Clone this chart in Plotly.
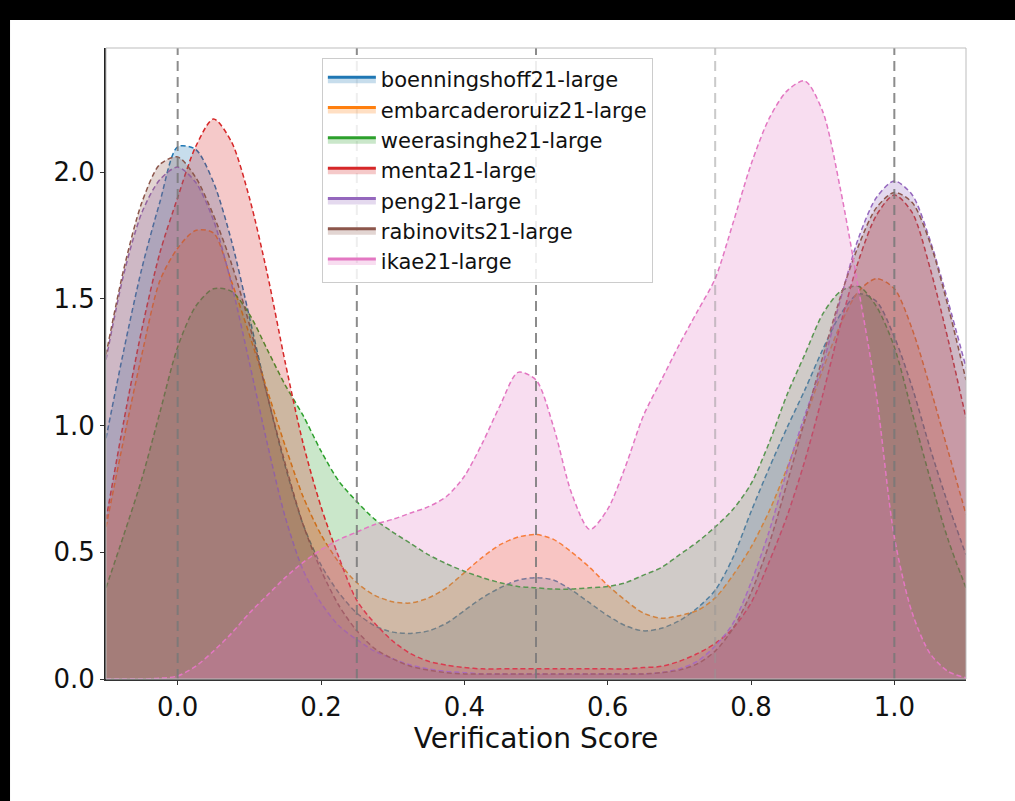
import plotly.graph_objects as go

# x grid of the density estimates (Verification Score)
score = [-0.1, -0.075, -0.05, -0.025, 0.0, 0.025, 0.05, 0.075, 0.1, 0.125,
         0.15, 0.175, 0.2, 0.225, 0.25, 0.275, 0.3, 0.325, 0.35, 0.375,
         0.4, 0.425, 0.45, 0.475, 0.5, 0.525, 0.55, 0.575, 0.6, 0.625,
         0.65, 0.675, 0.7, 0.725, 0.75, 0.775, 0.8, 0.825, 0.85, 0.875,
         0.9, 0.925, 0.95, 0.975, 1.0, 1.025, 1.05, 1.075, 1.1]

boenningshoff21 = [0.95, 1.30, 1.62, 1.88, 2.10, 2.09, 1.96, 1.73, 1.43, 1.12,
                   0.84, 0.61, 0.45, 0.34, 0.26, 0.21, 0.185, 0.18, 0.19, 0.22,
                   0.27, 0.32, 0.36, 0.39, 0.40, 0.39, 0.35, 0.30, 0.25, 0.21,
                   0.19, 0.20, 0.23, 0.28, 0.35, 0.48, 0.66, 0.83, 0.99, 1.14,
                   1.30, 1.44, 1.52, 1.49, 1.35, 1.15, 0.91, 0.69, 0.49]

embarcaderoruiz21 = [0.60, 0.95, 1.28, 1.57, 1.70, 1.77, 1.76, 1.57, 1.36, 1.14,
                     0.92, 0.72, 0.57, 0.46, 0.38, 0.33, 0.305, 0.30, 0.32, 0.36,
                     0.42, 0.48, 0.53, 0.56, 0.57, 0.55, 0.50, 0.44, 0.37, 0.31,
                     0.26, 0.24, 0.25, 0.27, 0.32, 0.41, 0.52, 0.66, 0.83, 1.02,
                     1.22, 1.40, 1.53, 1.58, 1.54, 1.38, 1.15, 0.90, 0.65]

weerasinghe21 = [0.36, 0.57, 0.79, 1.05, 1.31, 1.47, 1.54, 1.53, 1.44, 1.30,
                 1.16, 1.04, 0.90, 0.78, 0.70, 0.63, 0.58, 0.535, 0.49, 0.455,
                 0.425, 0.40, 0.38, 0.365, 0.36, 0.355, 0.355, 0.36, 0.365, 0.38,
                 0.41, 0.44, 0.49, 0.54, 0.60, 0.67, 0.77, 0.93, 1.12, 1.28,
                 1.44, 1.53, 1.55, 1.47, 1.31, 1.05, 0.79, 0.55, 0.36]

menta21 = [0.63, 1.02, 1.38, 1.68, 1.90, 2.10, 2.21, 2.12, 1.90, 1.60,
           1.25, 0.93, 0.68, 0.48, 0.31, 0.22, 0.15, 0.10, 0.07, 0.055,
           0.045, 0.04, 0.04, 0.04, 0.04, 0.04, 0.04, 0.04, 0.04, 0.04,
           0.045, 0.05, 0.07, 0.10, 0.14, 0.20, 0.30, 0.46, 0.64, 0.86,
           1.12, 1.40, 1.65, 1.83, 1.91, 1.84, 1.62, 1.34, 1.03]

peng21 = [1.26, 1.60, 1.84, 1.97, 2.02, 1.96, 1.81, 1.56, 1.25, 0.93,
          0.64, 0.43, 0.30, 0.21, 0.155, 0.11, 0.08, 0.055, 0.04, 0.03,
          0.025, 0.02, 0.02, 0.02, 0.02, 0.02, 0.02, 0.02, 0.02, 0.02,
          0.02, 0.025, 0.04, 0.07, 0.13, 0.22, 0.38, 0.58, 0.82, 1.04,
          1.24, 1.50, 1.74, 1.90, 1.965, 1.91, 1.73, 1.49, 1.23]

rabinovits21 = [1.28, 1.62, 1.88, 2.03, 2.06, 1.98, 1.83, 1.64, 1.40, 1.12,
                0.85, 0.61, 0.43, 0.29, 0.19, 0.12, 0.08, 0.05, 0.035, 0.025,
                0.02, 0.02, 0.02, 0.02, 0.02, 0.02, 0.02, 0.02, 0.02, 0.02,
                0.02, 0.025, 0.035, 0.06, 0.11, 0.20, 0.34, 0.53, 0.77, 1.02,
                1.27, 1.51, 1.71, 1.86, 1.92, 1.88, 1.72, 1.47, 1.18]

ikae21 = [0.0, 0.0, 0.0, 0.003, 0.012, 0.05, 0.11, 0.18, 0.26, 0.33,
          0.40, 0.46, 0.51, 0.55, 0.58, 0.61, 0.63, 0.655, 0.68, 0.72,
          0.80, 0.93, 1.08, 1.21, 1.18, 0.99, 0.73, 0.59, 0.67, 0.84,
          1.04, 1.18, 1.32, 1.45, 1.58, 1.80, 2.03, 2.21, 2.32, 2.36,
          2.24, 1.93, 1.54, 1.12, 0.56, 0.26, 0.10, 0.03, 0.005]

names = ["boenningshoff21-large", "embarcaderoruiz21-large", "weerasinghe21-large",
         "menta21-large", "peng21-large", "rabinovits21-large", "ikae21-large"]
series = [boenningshoff21, embarcaderoruiz21, weerasinghe21, menta21,
          peng21, rabinovits21, ikae21]
colors = ["#1f77b4", "#ff7f0e", "#2ca02c", "#d62728", "#9467bd", "#8c564b", "#e377c2"]

x_ticks = [0.0, 0.2, 0.4, 0.6, 0.8, 1.0]
y_ticks = [0.0, 0.5, 1.0, 1.5, 2.0]
ref_lines = [0.0, 0.25, 0.5, 0.75, 1.0]


def rgba(hex_color, a):
    h = hex_color.lstrip("#")
    r, g, b = int(h[0:2], 16), int(h[2:4], 16), int(h[4:6], 16)
    return f"rgba({r},{g},{b},{a})"


fig = go.Figure()
for name, ys, c in zip(names, series, colors):
    fig.add_trace(go.Scatter(
        x=score, y=ys, name=name, mode="lines", showlegend=False,
        line=dict(color=c, width=1.5, dash="5px,3px", shape="spline", smoothing=0.8),
        fill="tozeroy", fillcolor=rgba(c, 0.25),
    ))
# legend entries (patch style: solid edge, light fill)
for name, c in zip(names, colors):
    fig.add_trace(go.Scatter(
        x=[None], y=[None], name=name, mode="lines", showlegend=True,
        line=dict(color=c, width=3), fill="tozeroy", fillcolor=rgba(c, 0.25),
    ))

for xv in ref_lines:
    fig.add_shape(type="line", xref="x", yref="paper", x0=xv, x1=xv, y0=0, y1=1,
                  line=dict(color="rgba(120,120,120,0.85)" if xv != 0.75 else "rgba(150,150,150,0.5)",
                            width=2, dash="10px,6px"), layer="above")

# light frame on top/right
fig.add_shape(type="rect", xref="paper", yref="paper", x0=0, x1=1, y0=0, y1=1,
              line=dict(color="#bdbdbd", width=1), layer="above")
# black screenshot borders (top and left)
fig.add_shape(type="rect", xref="paper", yref="paper", x0=-0.13, x1=-0.1116, y0=-0.2, y1=1.1,
              line=dict(width=0), fillcolor="black", layer="above")
fig.add_shape(type="rect", xref="paper", yref="paper", x0=-0.13, x1=1.1, y0=1.0444, y1=1.1,
              line=dict(width=0), fillcolor="black", layer="above")

font_family = "DejaVu Sans, Verdana, sans-serif"

fig.update_layout(
    width=1015, height=801,
    margin=dict(l=106, r=49, t=48, b=122),
    paper_bgcolor="white", plot_bgcolor="white",
    font=dict(family=font_family, color="#111"),
    showlegend=True,
    legend=dict(x=0.251, y=0.984, xanchor="left", yanchor="top",
                bgcolor="rgba(255,255,255,0.85)", bordercolor="#cccccc", borderwidth=1,
                font=dict(size=21, family=font_family, color="#111"),
                itemwidth=48, tracegroupgap=0),
    xaxis=dict(range=[-0.1, 1.1], tickvals=x_ticks, tickformat=".1f",
               ticks="outside", ticklen=4, tickcolor="#333",
               showgrid=False, zeroline=False,
               showline=True, linecolor="#333", linewidth=1.5,
               tickfont=dict(size=26),
               title=dict(text="Verification Score", font=dict(size=28), standoff=6)),
    yaxis=dict(range=[0, 2.49], tickvals=y_ticks, tickformat=".1f",
               ticks="outside", ticklen=4, tickcolor="#333",
               showgrid=False, zeroline=False,
               showline=True, linecolor="#222", linewidth=2,
               tickfont=dict(size=26)),
)

fig.write_html("out.html", post_script="document.body.style.margin='0';",
               config={"displayModeBar": False})
